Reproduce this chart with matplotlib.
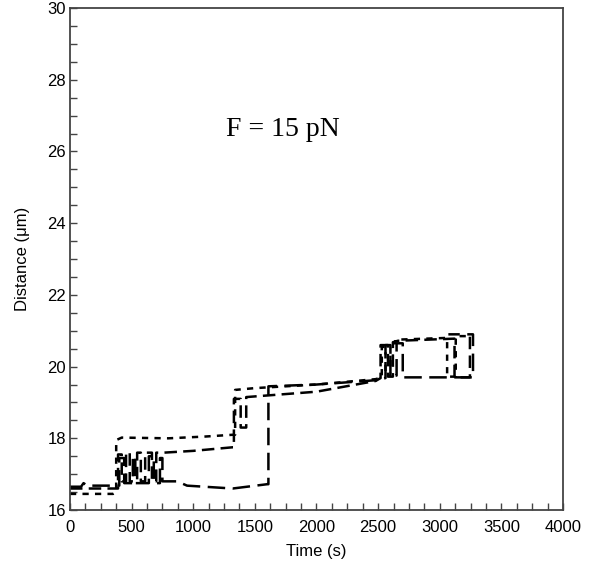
import matplotlib.pyplot as plt
from matplotlib.ticker import MultipleLocator

# trace A (short dashes)
t_a = [0, 350, 375, 375, 420, 800, 1100, 1325, 1340, 1340, 1500, 2000, 2480, 2530,
       2530, 2560, 2560, 2600, 2600, 2640, 2640, 3060, 3060, 3130, 3130, 3260]
y_a = [16.45, 16.45, 16.5, 17.95, 18.02, 18.0, 18.05, 18.1, 18.1, 19.35, 19.4, 19.5, 19.65, 19.7,
       20.55, 20.55, 19.75, 19.75, 20.65, 20.65, 20.75, 20.8, 19.72, 19.72, 20.85, 20.85]

# trace B (medium dashes)
t_b = [0, 380, 390, 390, 420, 420, 455, 455, 485, 485, 545, 545, 575, 575, 610, 610, 665, 665,
       700, 700, 760, 1000, 1320, 1330, 1330, 1385, 1385, 1430, 1430, 2000, 2480, 2520,
       2520, 2580, 2580, 2620, 2620, 2660, 3120, 3120, 3245, 3245]
y_b = [16.6, 16.6, 16.6, 17.55, 17.55, 16.8, 16.8, 17.6, 17.6, 16.8, 16.8, 17.6, 17.6, 16.8, 16.8, 17.6, 17.6, 16.8,
       16.8, 17.6, 17.6, 17.65, 17.75, 17.75, 19.1, 19.1, 18.3, 18.3, 19.15, 19.3, 19.6, 19.68,
       20.6, 20.6, 19.72, 19.72, 20.68, 20.72, 20.78, 19.7, 19.7, 20.88]

# trace C (long dashes)
t_c = [0, 90, 110, 140, 400, 400, 440, 440, 510, 510, 530, 530, 640, 640, 680, 680, 730, 730,
       750, 750, 870, 950, 1320, 1600, 1610, 1610, 2000, 2480, 2560, 2560, 2600, 2600, 2650, 2650,
       2700, 2700, 3270, 3270, 3070]
y_c = [16.65, 16.65, 16.75, 16.68, 16.68, 17.45, 17.45, 16.75, 16.75, 17.5, 17.5, 16.75, 16.75, 17.5, 17.5, 16.75, 16.75, 17.45,
       17.45, 16.8, 16.8, 16.68, 16.6, 16.72, 16.72, 19.45, 19.5, 19.62, 19.68, 20.6, 20.6, 19.75, 19.75, 20.65,
       20.65, 19.7, 19.7, 20.9, 20.9]

plt.rcParams['font.family'] = ['Liberation Sans', 'DejaVu Sans']

fig = plt.figure(figsize=(5.96, 5.75), dpi=100)
ax = fig.add_axes([0.1174, 0.113, 0.8272, 0.873])

ax.plot(t_a, y_a, color='black', lw=1.8, linestyle=(0, (2.5, 2.5)))
ax.plot(t_b, y_b, color='black', lw=1.8, linestyle=(0, (5, 2.5)))
ax.plot(t_c, y_c, color='black', lw=1.8, linestyle=(0, (7, 3)))

ax.set_xlim(0, 4000)
ax.set_ylim(16, 30)
ax.xaxis.set_major_locator(MultipleLocator(500))
ax.xaxis.set_minor_locator(MultipleLocator(125))
ax.yaxis.set_major_locator(MultipleLocator(2))
ax.yaxis.set_minor_locator(MultipleLocator(0.5))
ax.tick_params(which='both', direction='in', top=False, right=False, labelsize=12, color='#444444')
ax.tick_params(which='major', length=5, width=1)
ax.tick_params(which='minor', length=5, width=1)
ax.tick_params(axis='x', pad=7)
ax.tick_params(axis='y', pad=3)
for s in ax.spines.values():
    s.set_linewidth(1.3)
    s.set_color('#444444')

ax.set_xlabel('Time (s)', fontsize=12, labelpad=7)
ax.set_ylabel('Distance (μm)', fontsize=12, labelpad=12)

ax.text(1266, 26.43, 'F = 15 pN', family=['Liberation Serif', 'DejaVu Serif'], fontsize=20,
        ha='left', va='baseline')

fig.savefig('out.png', dpi=100)
